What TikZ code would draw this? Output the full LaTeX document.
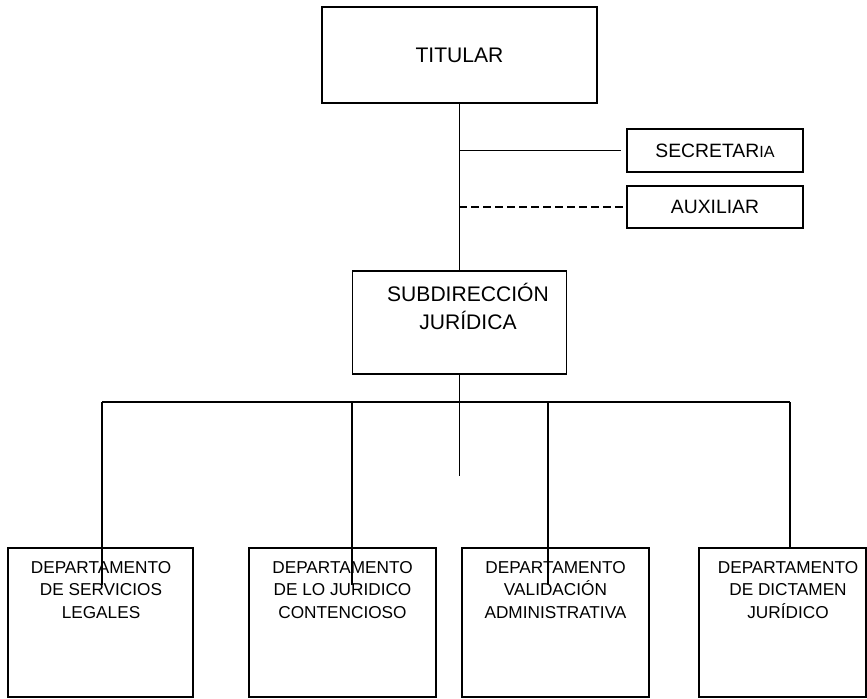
\documentclass[tikz,border=0pt]{standalone}
\usepackage{fontspec}
\setmainfont{Liberation Sans}
\usepackage{tikz}
\usetikzlibrary{calc}
\usetikzlibrary{positioning}
\tikzstyle{every node}=[font=\fontsize{12}{15.9}\selectfont]
\tikzstyle{box}=[draw, line width=0.9pt, inner sep=0pt]
\tikzstyle{deptbox}=[box, minimum height=2.98cm]
\tikzstyle{small}=[font=\fontsize{11}{13}\selectfont]
\tikzstyle{depttext}=[font=\fontsize{9.8}{13}\selectfont, align=center, inner sep=0pt]
\tikzstyle{link}=[line width=0.9pt]

\begin{document}
\begin{tikzpicture}[x=0.02cm, y=-0.02cm]
        \useasboundingbox (0, 0) rectangle (867, 698);

        \node [box, minimum width=5.5cm, minimum height=1.92cm] (titular) at (459.5, 55) {};
        \node at (titular.center) (titulartext) {TITULAR};

        \node [box, minimum width=3.52cm, minimum height=0.86cm] (secre) at (715, 150.5) {};
        \node [small] at (secre.center) (secretext) {SECRETAR{\fontsize{9.2}{10}\selectfont IA}};
        \node [box, minimum width=3.52cm, minimum height=0.84cm] (aux) at (715, 207) {};
        \node [small] at (aux.center) (auxtext) {AUXILIAR};

        \node [box, minimum width=4.28cm, minimum height=2.06cm] (subdir) at (459.5, 322.5) {};
        \node [align=center, inner sep=0pt] at (468, 306) (subdirtext) {SUBDIRECCIÓN\\JURÍDICA};

        \node [deptbox, minimum width=3.7cm] (d1) at (100.5, 622.5) {};
        \node [deptbox, minimum width=3.74cm] (d2) at (342.5, 622.5) {};
        \node [deptbox, minimum width=3.74cm] (d3) at (555.5, 622.5) {};
        \node [deptbox, minimum width=3.34cm] (d4) at (782.5, 622.5) {};
        \node [depttext] at (101, 590) (d1text) {DEPARTAMENTO\\DE SERVICIOS\\LEGALES};
        \node [depttext] at (342.5, 590) (d2text) {DEPARTAMENTO\\DE LO JURIDICO\\CONTENCIOSO};
        \node [depttext] at (555.5, 590) (d3text) {DEPARTAMENTO\\VALIDACIÓN\\ADMINISTRATIVA};
        \node [depttext] at (788, 590) (d4text) {DEPARTAMENTO\\DE DICTAMEN\\JURÍDICO};

        \coordinate (busL) at (102, 402);
        \coordinate (busR) at (790, 402);
        \coordinate (stub) at (459.5, 476);

        \draw [link] (titular.south) -- (subdir.north);
        \draw [link] (titular.south |- secre.west) -- ([xshift=-0.1cm]secre.west);
        \draw [link, dash pattern=on 4.5pt off 2.3pt] (titular.south |- aux.west) -- (aux.west);
        \draw [link] (subdir.south) -- (stub);
        \draw [link] (busL) -- (busR);
        \foreach \x [count=\i] in {102, 352, 548} {
            \coordinate (top\i) at (\x, 402);
            \coordinate (end\i) at (\x, 585);
            \draw [link] (top\i) -- (end\i);
        }
        \draw [link] (busR) -- (busR |- d4.north);
    \end{tikzpicture}
\end{document}
